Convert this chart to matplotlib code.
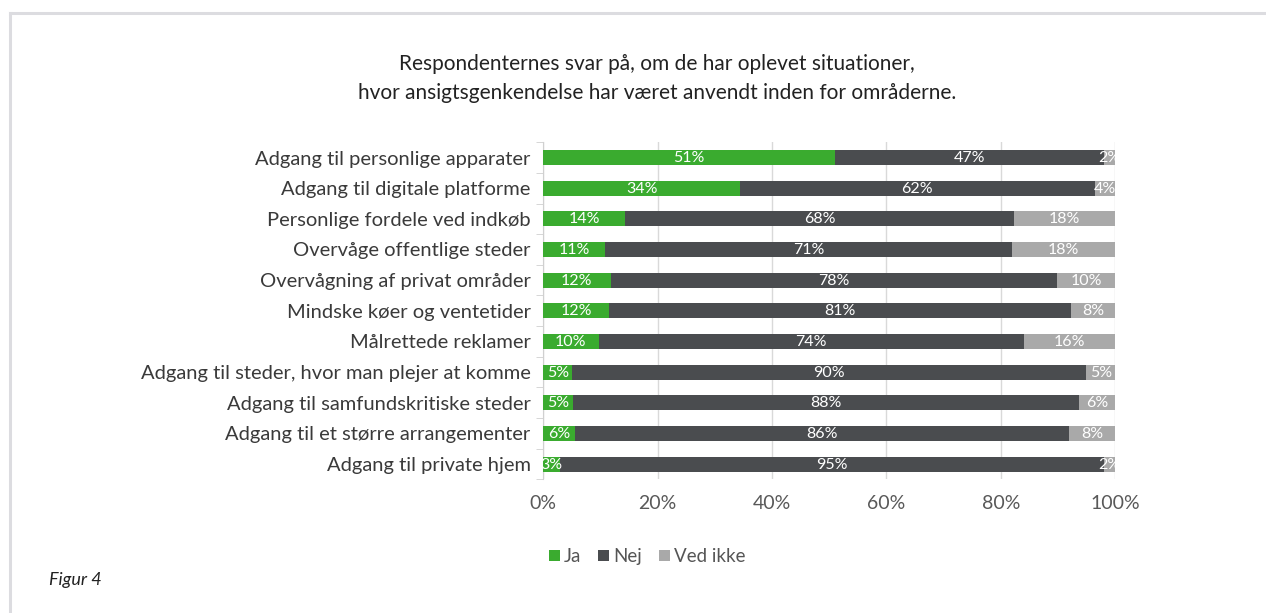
import matplotlib.pyplot as plt
from matplotlib.lines import Line2D

# Data (percent)
kategorier = [
    "Adgang til personlige apparater",
    "Adgang til digitale platforme",
    "Personlige fordele ved indkøb",
    "Overvåge offentlige steder",
    "Overvågning af privat områder",
    "Mindske køer og ventetider",
    "Målrettede reklamer",
    "Adgang til steder, hvor man plejer at komme",
    "Adgang til samfundskritiske steder",
    "Adgang til et større arrangementer",
    "Adgang til private hjem",
]
ja = [51, 34.4, 14.3, 10.8, 11.8, 11.5, 9.7, 5.1, 5.3, 5.6, 3]
nej = [47, 62, 68, 71.2, 78, 80.8, 74.3, 89.8, 88.4, 86.3, 95]
ved_ikke = [2, 3.6, 17.7, 18, 10.2, 7.7, 16, 5.1, 6.3, 8.1, 2]

serier = ["Ja", "Nej", "Ved ikke"]
farver = ["#3aab2f", "#4a4c4f", "#a9a9a9"]

plt.rcParams["font.family"] = ["Lato", "DejaVu Sans"]

fig = plt.figure(figsize=(12.66, 6.13), dpi=100)
ax = fig.add_axes([0.429, 0.218, 0.452, 0.55])

# Ramme (top og venstre kant)
fig.add_artist(Line2D([0.008, 1], [0.978, 0.978], color="#dcdce0", lw=2.2,
                      transform=fig.transFigure))
fig.add_artist(Line2D([0.008, 0.008], [0, 0.978], color="#dcdce0", lw=2.2,
                      transform=fig.transFigure))

y = list(range(len(kategorier)))
venstre = [0] * len(kategorier)
for navn, data, farve in zip(serier, [ja, nej, ved_ikke], farver):
    bars = ax.barh(y, data, left=venstre, height=0.49, color=farve, label=navn,
                   zorder=3)
    for b, v in zip(bars, data):
        cx = b.get_x() + b.get_width() / 2
        ax.text(cx, b.get_y() + b.get_height() / 2 + 0.02, f"{v:.0f}%",
                ha="center", va="center", color="white", fontsize=11.5,
                zorder=4)
    venstre = [a + b for a, b in zip(venstre, data)]

ax.set_xlim(0, 100)
ax.set_ylim(len(kategorier) - 0.5, -0.5)
ax.set_yticks(y)
ax.set_yticklabels(kategorier, fontsize=14.5, color="#3a3a3a")
ax.set_xticks([0, 20, 40, 60, 80, 100])
ax.set_xticklabels([f"{t}%" for t in [0, 20, 40, 60, 80, 100]],
                   fontsize=14, color="#595959")
ax.tick_params(axis="x", length=0, pad=11)
ax.tick_params(axis="y", length=0, pad=9)

# Små streger mellem kategorierne på y-aksen
ax.set_yticks([i - 0.5 for i in range(len(kategorier) + 1)], minor=True)
ax.tick_params(axis="y", which="minor", length=5, color="#d0d0d0")

ax.grid(axis="x", color="#d9d9d9", lw=1, zorder=0)
for side in ["top", "right", "bottom"]:
    ax.spines[side].set_visible(False)
ax.spines["left"].set_color("#d0d0d0")

fig.text(0.519, 0.872,
         "Respondenternes svar på, om de har oplevet situationer,\n"
         "hvor ansigtsgenkendelse har været anvendt inden for områderne.",
         ha="center", va="center", fontsize=15, color="#222222",
         linespacing=1.6)

fig.legend(loc="center", bbox_to_anchor=(0.511, 0.092), ncol=3, frameon=False,
           fontsize=13.5, handlelength=0.6, handleheight=0.6, handletextpad=0.2,
           columnspacing=0.9, labelcolor="#555555")

fig.text(0.039, 0.054, "Figur 4", fontsize=13, style="italic",
         color="#222222", va="center")

fig.savefig("out.png", dpi=100)
